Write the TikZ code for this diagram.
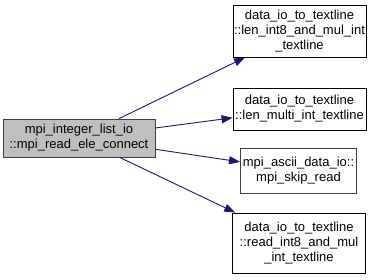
\documentclass[tikz,border=0pt]{standalone}
\usepackage{fontspec}
\setmainfont{Liberation Sans}
\usetikzlibrary{arrows.meta}
\definecolor{callblue}{RGB}{25,25,112}
\definecolor{rootgrey}{RGB}{191,191,191}
\tikzset{
  fn/.style={draw=black, fill=white, line width=0.9pt, align=center, inner sep=0pt,
    minimum width=133pt, minimum height=42pt, font=\fontsize{13}{15}\selectfont},
  call/.style={draw=callblue, line width=0.9pt, -{Triangle[length=11pt,width=8pt]}}
}
\begin{document}
\begin{tikzpicture}[x=1pt,y=-1pt]
\useasboundingbox (0,0) rectangle (371,279);
% caller
\node[fn, fill=rootgrey, draw=black!75, minimum width=152pt, minimum height=38pt] (main) at (79,138)
  {mpi\_integer\_list\_io\\::mpi\_read\_ele\_connect};
% callees, top to bottom
\node[fn, minimum height=52pt] (lenint8) at (299.5,31)
  {data\_io\_to\_textline\\::len\_int8\_and\_mul\_int\\\_textline};
\node[fn] (lenmulti) at (299.5,109)
  {data\_io\_to\_textline\\::len\_multi\_int\_textline};
\node[fn, draw=black!75, minimum width=116pt, minimum height=45pt] (skipread) at (298.5,170.5)
  {mpi\_ascii\_data\_io::\\mpi\_skip\_read};
\node[fn, minimum height=60pt] (readint8) at (299,243)
  {data\_io\_to\_textline\\::read\_int8\_and\_mul\\\_int\_textline};
\foreach \n in {lenint8,lenmulti,skipread,readint8} % one edge per callee
  \draw[call] (main) -- (\n);
\end{tikzpicture}
\end{document}
